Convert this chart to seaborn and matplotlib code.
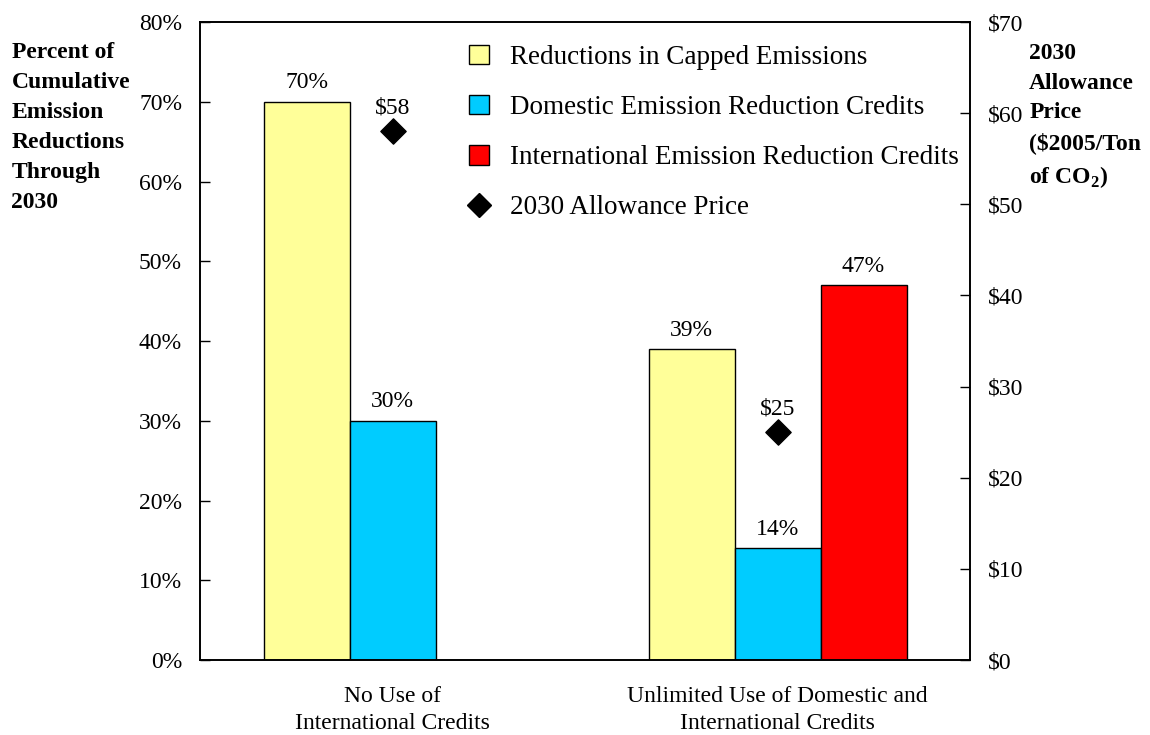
import matplotlib
matplotlib.use("Agg")
import matplotlib.pyplot as plt
import seaborn as sns
import numpy as np
import pandas as pd
from matplotlib.patches import Patch
from matplotlib.lines import Line2D
from matplotlib.ticker import FuncFormatter

# data
scenarios = ["No Use of\nInternational Credits",
             "Unlimited Use of Domestic and\nInternational Credits"]
series = ["Reductions in Capped Emissions",
          "Domestic Emission Reduction Credits",
          "International Emission Reduction Credits"]
capped = [70, 39]
domestic = [30, 14]
international = [0, 47]
price = [58, 25]
colors = ["#FFFF99", "#00CCFF", "#FF0000"]

sns.set_style("white")
plt.rcParams["font.family"] = ["Liberation Serif", "DejaVu Serif"]
plt.rcParams["mathtext.fontset"] = "custom"
plt.rcParams["mathtext.bf"] = "Liberation Serif:bold"
plt.rcParams["mathtext.rm"] = "Liberation Serif"
plt.rcParams["text.color"] = "black"
plt.rcParams["xtick.color"] = "black"
plt.rcParams["ytick.color"] = "black"

df = pd.DataFrame({
    "scenario": scenarios * 3,
    "series": [s for s in series for _ in scenarios],
    "value": capped + domestic + international,
})

fs = 17

fig = plt.figure(figsize=(11.5, 7.35), dpi=100)
ax = fig.add_axes([0.174, 0.102, 0.6695, 0.868])

sns.barplot(data=df, x="scenario", y="value", hue="series", order=scenarios,
            hue_order=series, palette=colors, width=0.67, saturation=1,
            edgecolor="black", linewidth=1, legend=False, ax=ax)

# value labels on bars
for cont in ax.containers:
    labels = [f"{v:.0f}%" if v > 0 else "" for v in cont.datavalues]
    ax.bar_label(cont, labels=labels, padding=6, fontsize=fs)

ax.set_xlim(-0.5, 1.5)
ax.set_ylim(0, 80)
ax.set_yticks(np.arange(0, 81, 10))
ax.yaxis.set_major_formatter(FuncFormatter(lambda v, p: f"{v:.0f}%"))
ax.set_xlabel("")
ax.set_ylabel("")
ax.tick_params(axis="y", direction="in", length=7, width=1, labelsize=fs, pad=13)
ax.tick_params(axis="x", length=0, labelsize=fs, pad=19)
for lbl in ax.get_xticklabels():
    lbl.set_linespacing(1.35)
for sp in ax.spines.values():
    sp.set_color("black")
    sp.set_linewidth(1.2)

# allowance price on secondary axis
ax2 = ax.twinx()
xpos = np.arange(len(scenarios))
sns.scatterplot(x=xpos, y=price, marker="D", s=165, color="black",
                edgecolor="black", ax=ax2, legend=False, zorder=5)
for x, p in zip(xpos, price):
    ax2.annotate(f"${p}", (x, p), xytext=(0, 9), textcoords="offset points",
                 ha="center", va="bottom", fontsize=fs)
ax2.set_ylim(0, 70)
ax2.set_yticks(np.arange(0, 71, 10))
ax2.yaxis.set_major_formatter(FuncFormatter(lambda v, p: f"${v:.0f}"))
ax2.tick_params(axis="y", direction="in", length=7, width=1, labelsize=fs, pad=13)
ax2.set_xlim(-0.5, 1.5)
for sp in ax2.spines.values():
    sp.set_color("black")
    sp.set_linewidth(1.2)

# axis titles
fig.text(0.010, 0.943, "Percent of\nCumulative\nEmission\nReductions\nThrough\n2030",
         ha="left", va="top", fontsize=fs, fontweight="bold", linespacing=1.56)
fig.text(0.895, 0.941, "2030\nAllowance\nPrice\n($2005/Ton\nof CO$_\\mathbf{2}$)",
         ha="left", va="top", fontsize=fs, fontweight="bold", linespacing=1.53)

# legend
handles = [Patch(facecolor=c, edgecolor="black", linewidth=1) for c in colors]
handles.append(Line2D([], [], marker="D", color="black", linestyle="None", markersize=12))
ax2.legend(handles, series + ["2030 Allowance Price"], loc="upper left",
           bbox_to_anchor=(0.318, 1.002), frameon=False, fontsize=19.5,
           labelspacing=0.92, handlelength=0.72, handleheight=0.72,
           handletextpad=0.8)

fig.savefig("out.png", dpi=100)
